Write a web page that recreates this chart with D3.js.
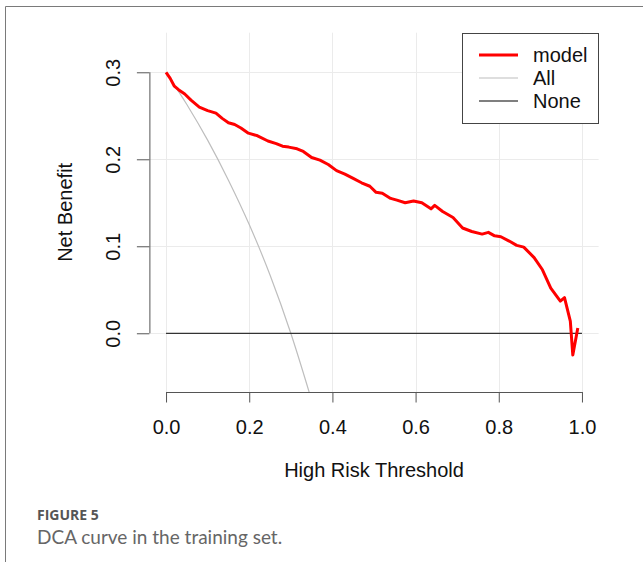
<!DOCTYPE html>
<html>
<head>
<meta charset="utf-8">
<script src="https://cdn.jsdelivr.net/npm/d3@7"></script>
<style>
	body { margin: 0; background: #fff; }
	svg { display: block; }
</style>
</head>
<body>
<svg id="chart" width="643" height="562"></svg>
<script>
// model net benefit
const MODEL_X = [0.000, 0.010, 0.020, 0.030, 0.045, 0.060, 0.080, 0.100, 0.120, 0.135,
	0.150, 0.165, 0.180, 0.198, 0.220, 0.245, 0.265, 0.280, 0.295, 0.315,
	0.330, 0.350, 0.370, 0.390, 0.410, 0.430, 0.450, 0.470, 0.490, 0.505,
	0.520, 0.540, 0.555, 0.575, 0.595, 0.615, 0.637, 0.646, 0.665, 0.690,
	0.713, 0.735, 0.760, 0.775, 0.790, 0.805, 0.825, 0.843, 0.860, 0.885,
	0.905, 0.925, 0.948, 0.958, 0.972, 0.978, 0.990];
const MODEL_Y = [0.300, 0.293, 0.284, 0.280, 0.275, 0.268, 0.260, 0.256, 0.253, 0.247,
	0.242, 0.240, 0.236, 0.230, 0.227, 0.221, 0.218, 0.215, 0.214, 0.212,
	0.209, 0.202, 0.199, 0.194, 0.187, 0.183, 0.178, 0.173, 0.169, 0.162,
	0.161, 0.155, 0.153, 0.150, 0.152, 0.150, 0.143, 0.147, 0.140, 0.133,
	0.121, 0.117, 0.114, 0.116, 0.112, 0.111, 0.106, 0.101, 0.099, 0.087,
	0.073, 0.052, 0.037, 0.041, 0.014, -0.025, 0.006];

// treat-all curve
const ALL_X = [0.00, 0.05, 0.10, 0.15, 0.20, 0.25, 0.30, 0.35];
const ALL_Y = [0.300, 0.263, 0.222, 0.176, 0.125, 0.067, 0.000, -0.077];

// treat-none
const NONE_X = [0, 1];
const NONE_Y = [0, 0];

const X_TICKS = [0, 0.2, 0.4, 0.6, 0.8, 1.0];
const Y_TICKS = [0, 0.1, 0.2, 0.3];

const LEGEND = [
	{ label: "model", color: "#ff0000", width: 3 },
	{ label: "All", color: "#bebebe", width: 1.2 },
	{ label: "None", color: "#000000", width: 1.2 },
];

const FONT = "'Liberation Sans', Arial, sans-serif";
const FONT_SIZE = 20;
const GRID_COLOR = "#ebebeb";
const AXIS_COLOR = "#555";

const svg = d3.select("#chart");

// page frame
svg.append("path")
	.attr("d", "M5.5,562 L5.5,6.5 L643,6.5")
	.attr("fill", "none")
	.attr("stroke", "#7a7a7a")
	.attr("stroke-width", 1);

const plot = { left: 149.4, right: 598.6, top: 32.7, bottom: 392 };

const x = d3.scaleLinear().domain([-0.04, 1.04]).range([plot.left, plot.right]);
const y = d3.scaleLinear().domain([-0.0675, 0.3455]).range([plot.bottom, plot.top]);

svg.append("defs").append("clipPath")
	.attr("id", "clip")
	.append("rect")
	.attr("x", plot.left)
	.attr("y", plot.top)
	.attr("width", plot.right - plot.left)
	.attr("height", plot.bottom - plot.top);

// grid
const grid = svg.append("g").attr("stroke", GRID_COLOR).attr("stroke-width", 1);
grid.selectAll(".vx")
	.data(X_TICKS)
	.join("line")
	.attr("x1", d => Math.round(x(d)) + 0.5)
	.attr("x2", d => Math.round(x(d)) + 0.5)
	.attr("y1", plot.top)
	.attr("y2", plot.bottom);
grid.selectAll(".hy")
	.data(Y_TICKS)
	.join("line")
	.attr("x1", plot.left)
	.attr("x2", plot.right)
	.attr("y1", d => Math.round(y(d)) + 0.5)
	.attr("y2", d => Math.round(y(d)) + 0.5);

const toPts = (xs, ys) => xs.map((v, i) => [v, ys[i]]);
const line = d3.line().x(d => x(d[0])).y(d => y(d[1]));

const lines = svg.append("g").attr("clip-path", "url(#clip)");

lines.append("path")
	.datum(toPts(ALL_X, ALL_Y))
	.attr("fill", "none")
	.attr("stroke", LEGEND[1].color)
	.attr("stroke-width", 1.2)
	.attr("d", d3.line().curve(d3.curveMonotoneX).x(d => x(d[0])).y(d => y(d[1])));

lines.append("path")
	.datum(toPts(NONE_X, NONE_Y))
	.attr("fill", "none")
	.attr("stroke", "#333")
	.attr("stroke-width", 1.2)
	.attr("d", line);

lines.append("path")
	.datum(toPts(MODEL_X, MODEL_Y))
	.attr("fill", "none")
	.attr("stroke", LEGEND[0].color)
	.attr("stroke-width", 3)
	.attr("stroke-linejoin", "round")
	.attr("d", line);

// x axis
const xAxis = svg.append("g")
	.attr("transform", `translate(0, ${plot.bottom})`)
	.call(d3.axisBottom(x)
		.tickValues(X_TICKS)
		.tickFormat(d3.format(".1f"))
		.tickSize(10.5)
		.tickPadding(17)
		.tickSizeOuter(0));
xAxis.select(".domain").remove();
xAxis.append("line")
	.attr("x1", x(0)).attr("x2", x(1))
	.attr("y1", 0.5).attr("y2", 0.5)
	.attr("stroke", AXIS_COLOR);
xAxis.selectAll(".tick line").attr("stroke", AXIS_COLOR);
xAxis.selectAll(".tick text")
	.attr("font-family", FONT)
	.attr("font-size", FONT_SIZE)
	.attr("fill", "#111");

// y axis
const yAxis = svg.append("g")
	.attr("transform", `translate(${plot.left}, 0)`)
	.call(d3.axisLeft(y)
		.tickValues(Y_TICKS)
		.tickFormat(d3.format(".1f"))
		.tickSize(12.5)
		.tickSizeOuter(0));
yAxis.select(".domain").remove();
yAxis.append("line")
	.attr("x1", 0.5).attr("x2", 0.5)
	.attr("y1", y(0)).attr("y2", y(0.3))
	.attr("stroke", AXIS_COLOR);
yAxis.selectAll(".tick line").attr("stroke", AXIS_COLOR);
yAxis.selectAll(".tick text")
	.attr("font-family", FONT)
	.attr("font-size", FONT_SIZE)
	.attr("fill", "#111")
	.attr("x", null)
	.attr("text-anchor", "middle")
	.attr("transform", "translate(-36, 0) rotate(-90)")
	.attr("dy", "0.35em");

// axis titles
svg.append("text")
	.attr("x", (plot.left + plot.right) / 2)
	.attr("y", 477)
	.attr("text-anchor", "middle")
	.attr("font-family", FONT)
	.attr("font-size", FONT_SIZE)
	.attr("fill", "#111")
	.text("High Risk Threshold");

svg.append("text")
	.attr("transform", `translate(72, ${(plot.top + plot.bottom) / 2}) rotate(-90)`)
	.attr("text-anchor", "middle")
	.attr("font-family", FONT)
	.attr("font-size", FONT_SIZE)
	.attr("fill", "#111")
	.text("Net Benefit");

// legend
const legend = svg.append("g");
legend.append("rect")
	.attr("x", 462.5).attr("y", 33.5)
	.attr("width", 136).attr("height", 90)
	.attr("fill", "#fff")
	.attr("stroke", "#444");
const rows = legend.selectAll(".row")
	.data(LEGEND)
	.join("g")
	.attr("transform", (d, i) => `translate(0, ${55 + i * 23})`);
rows.append("line")
	.attr("x1", 479).attr("x2", 518)
	.attr("stroke", d => d.color)
	.attr("stroke-width", d => d.width);
rows.append("text")
	.attr("x", 533)
	.attr("dy", "0.35em")
	.attr("font-family", FONT)
	.attr("font-size", FONT_SIZE)
	.attr("fill", "#111")
	.text(d => d.label);

// caption
svg.append("text")
	.attr("x", 37).attr("y", 520)
	.attr("font-family", "'Open Sans', Lato, sans-serif")
	.attr("font-weight", 700)
	.attr("font-size", 14)
	.attr("fill", "#555")
	.text("FIGURE 5");
svg.append("text")
	.attr("x", 37).attr("y", 544)
	.attr("font-family", "Lato, 'Open Sans', sans-serif")
	.attr("font-size", 19)
	.attr("fill", "#666")
	.text("DCA curve in the training set.");
</script>
</body>
</html>
